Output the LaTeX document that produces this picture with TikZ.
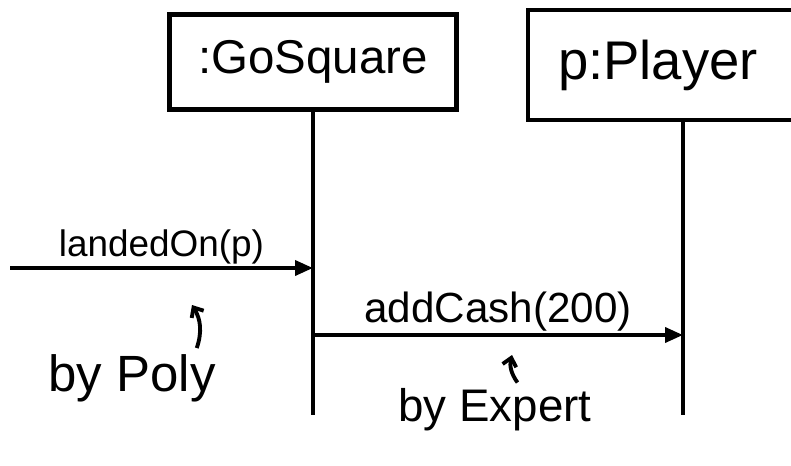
\documentclass[tikz,border=0pt]{standalone}
\usepackage{fontspec}
\setmainfont{Liberation Sans}
\usetikzlibrary{positioning,arrows.meta}

\tikzset{
  objbox/.style={draw, line width=2.6pt, minimum height=1.9cm, font=\fontsize{27}{31}\selectfont},
  lifeline/.style={line width=1.9pt},
  msg/.style={line width=2.1pt, -{Triangle[length=0.36cm, width=0.3cm]}},
  msglabel/.style={above, inner sep=1pt},
  hint/.style={line width=2.2pt, -{Straight Barb[length=0.16cm, width=0.28cm]}},
  notetext/.style={font=\fontsize{29}{33}\selectfont}
}

\begin{document}
\begin{tikzpicture}[x=0.02cm, y=-0.02cm]
\useasboundingbox (0,0) rectangle (791,466);
\clip (0,0) rectangle (791,466);
% objects and lifelines
\node[objbox, minimum width=5.75cm] (gosq) at (313,62) {:GoSquare};
\node[objbox, minimum width=6.2cm, minimum height=2.2cm, text width=5.0cm, align=left, font=\fontsize{31}{35}\selectfont] (player) at (683,65) {p:Player};
\coordinate (gosqEnd) at (313,415);
\draw[lifeline] (gosq.south) -- (gosqEnd);
\draw[lifeline] (player.south) -- (player.south |- gosqEnd);
% messages
\coordinate (caller) at (10,268);
\draw[msg] (caller) -- node[msglabel, font=\fontsize{21}{24}\selectfont] (landedlbl) {landedOn(p)} (gosq.south |- caller);
\coordinate (cashY) at (0,335);
\draw[msg] (gosq.south |- cashY) -- node[msglabel, font=\fontsize{24}{28}\selectfont] (cashlbl) {addCash(200)} (player.south |- cashY);
% design notes
\node[notetext] (poly) at (132,378) {by Poly};
\node[notetext, font=\fontsize{26}{30}\selectfont] (expert) at (495,410) {by Expert};
\coordinate (polyTip) at (192,305);
\coordinate (expertTip) at (512,355);
\draw[hint] ([xshift=-0.5cm]poly.north east) to[bend right=25] (polyTip);
\draw[hint] ([xshift=0.45cm]expert.north) to[bend left=25] (expertTip);
\end{tikzpicture}
\end{document}
